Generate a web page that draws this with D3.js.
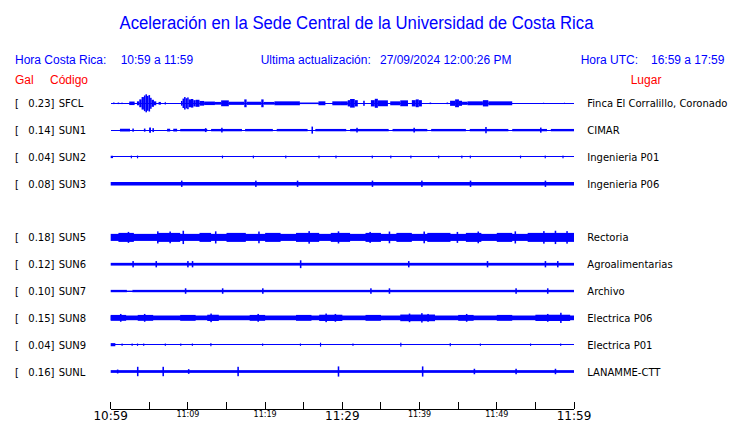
<!DOCTYPE html>
<html><head><meta charset="utf-8">
<script src="https://cdn.jsdelivr.net/npm/d3@7/dist/d3.min.js"></script>
<style>body{margin:0;background:#fff}</style>
</head><body><svg id="c" width="740" height="423"></svg>
<script>
// ---- data ----
const title = "Aceleración en la Sede Central de la Universidad de Costa Rica";
const slots = ["SFCL","SUN1","SUN2","SUN3","SUN4","SUN5","SUN6","SUN7","SUN8","SUN9","SUNL"];
const codes = ["SFCL","SUN1","SUN2","SUN3","SUN5","SUN6","SUN7","SUN8","SUN9","SUNL"];
const galMax = [0.23,0.14,0.04,0.08,0.18,0.12,0.10,0.15,0.04,0.16];
const places = ["Finca El Corralillo, Coronado","CIMAR","Ingenieria P01","Ingenieria P06","Rectoria","Agroalimentarias","Archivo","Electrica P06","Electrica P01","LANAMME-CTT"];
const tickMinutes = [0,5,10,15,20,25,30,35,40,45,50,55,60];
const tickLabels = {0:"10:59",10:"11:09",20:"11:19",30:"11:29",40:"11:39",50:"11:49",60:"11:59"};
const majorLabels = [0,30,60];

// envelopes: [start minute, end minute, half amplitude in Gal]
const envSFCL = [[0.3,0.5,0.02],[0.9,1.1,0.02],[1.4,1.5,0.02],[2.4,3.1,0.045],
 [3.4,3.7,0.05],[3.7,4.0,0.1],[4.0,4.3,0.16],[4.3,4.5,0.2],[4.5,4.7,0.23],[4.7,4.9,0.19],[4.9,5.1,0.21],[5.1,5.3,0.14],[5.3,5.6,0.09],[5.6,5.9,0.05],
 [6.2,6.5,0.035],[7.0,7.1,0.035],
 [9.1,9.3,0.06],[9.3,9.5,0.12],[9.5,9.7,0.16],[9.7,9.9,0.13],[9.9,10.1,0.15],[10.1,10.4,0.1],[10.4,10.7,0.11],[10.7,11.0,0.08],[11.0,11.5,0.09],[11.5,12.1,0.06],
 [12.1,13.5,0.045],[13.5,14.3,0.035],[14.3,15.3,0.075],[15.3,17.3,0.04],[17.3,17.6,0.1],[17.6,19.5,0.04],[19.5,19.8,0.1],[19.8,21.2,0.035],[21.2,24.5,0.05],[24.5,26.9,0.02],[26.9,27.8,0.05],[28.7,29.7,0.05],
 [29.7,30.7,0.05],[30.7,31.0,0.08],[31.0,31.6,0.11],[31.6,32.0,0.08],[32.7,32.9,0.065],[33.7,34.2,0.08],[34.2,34.6,0.115],[34.6,35.9,0.075],[36.2,37.5,0.05],[37.5,38.5,0.075],[39.0,39.5,0.08],[39.5,39.9,0.1],[39.9,40.3,0.08],
 [41.3,41.5,0.02],[43.5,43.7,0.02],[43.95,44.6,0.065],[44.6,45.1,0.1],[45.1,45.5,0.065],[45.5,46.2,0.04],[46.2,48.2,0.05],[48.2,48.9,0.08],[48.9,52.0,0.05],[56.0,56.1,0.015],[58.7,58.8,0.015]];
const envSUN1 = [[1.2,2.5,0.035],[2.8,3.0,0.04],[4.3,4.5,0.04],[5.0,5.2,0.065],[5.4,5.6,0.05],[7.3,7.7,0.035],[8.1,8.6,0.035],[9.0,12.5,0.03],[13.0,17.0,0.03],[17.4,21.0,0.03],[21.5,25.5,0.03],[26.5,30.5,0.03],[31.0,36.0,0.03],[36.5,41.0,0.03],[41.5,46.0,0.03],[46.5,51.5,0.03],[52.0,56.5,0.03],[57.0,60,0.03],
 [5.0,5.2,0.06],[12.2,12.4,0.05],[14.3,14.5,0.06],[26.0,26.2,0.09],[31.8,32.0,0.06],[39.2,39.4,0.06],[48.5,48.7,0.08],[55.6,55.8,0.065]];
const envSUN2 = [[0,0.3,0.03],[2.6,2.75,0.035],[3.4,3.55,0.035],[14.4,14.55,0.035],[18.4,18.55,0.035],[22.6,22.75,0.035],[26.9,27.05,0.035],[29.1,29.25,0.035],[33.8,33.95,0.035],[36.2,36.35,0.035],[38.8,38.95,0.035],[42.4,42.55,0.035],[45.4,45.55,0.035],[46.5,46.65,0.035],[53.0,53.15,0.035],[56.2,56.35,0.035],[58.5,58.65,0.035]];
const envSUN3 = [[0,60,0.045],[9.1,9.3,0.08],[18.7,18.9,0.08],[24.1,24.3,0.08],[33.8,34.0,0.08],[40.2,40.4,0.08],[46.5,46.7,0.08],[56.2,56.4,0.08]];
const envSUN5 = [[0,60,0.09],[1,3,0.115],[6,9,0.115],[11.5,13,0.115],[15,17.5,0.115],[20,22,0.115],[24,27,0.115],[28.5,31,0.115],[33,35,0.115],[37,39,0.115],[41,44,0.115],[46,48,0.115],[50,52,0.115],[54,60,0.115],
 [2.2,2.4,0.14],[6.0,6.2,0.155],[7.6,7.8,0.15],[9.3,9.5,0.17],[13.5,13.7,0.155],[19.1,19.3,0.15],[25.6,25.8,0.16],[29.4,29.6,0.155],[33.5,33.7,0.14],[36,36.2,0.15],[40.5,40.7,0.15],[44.8,45.0,0.14],[47.5,47.7,0.15],[52.3,52.5,0.155],[56,56.2,0.16],[57.5,57.7,0.17],[59,59.2,0.16]];
const envSUN6 = [[0,60,0.035],[2.8,3.0,0.08],[5.8,6.0,0.08],[9.9,10.1,0.08],[10.5,10.7,0.08],[24.5,24.7,0.1],[38.5,38.7,0.08],[48.7,48.9,0.08],[56.2,56.4,0.08],[57.8,58.0,0.08]];
const envSUN7 = [[0,2.1,0.03],[2.1,2.8,0.012],[2.8,60,0.03],[9.6,9.8,0.07],[14.4,14.6,0.07],[19.6,19.8,0.07],[33.6,33.8,0.07],[36.0,36.2,0.07],[52.4,52.6,0.07],[56.5,56.7,0.07]];
const envSUN8 = [[0,60,0.06],[0,2,0.075],[3.5,5.5,0.075],[9,11,0.075],[12.5,14,0.08],[18,20,0.075],[24,26,0.075],[27,30,0.08],[33,35,0.075],[37.5,42,0.085],[45,47,0.075],[50,52,0.075],[55,59.5,0.08],
 [1.2,1.4,0.1],[4.3,4.5,0.1],[12.9,13.1,0.11],[19,19.2,0.1],[27.8,28.0,0.11],[29.0,29.2,0.1],[38.6,38.8,0.11],[40.2,40.4,0.12],[41.0,41.2,0.1],[46,46.2,0.1],[56.5,56.7,0.1],[58.2,58.4,0.13]];
const envSUN9 = [[0,0.6,0.04],[1.4,1.55,0.03],[2.7,2.85,0.03],[3.4,3.55,0.03],[4.2,4.35,0.03],[7.0,7.15,0.03],[9.0,9.15,0.03],[10.5,10.65,0.03],[12.9,13.05,0.04],[19.6,19.75,0.03],[24.5,24.65,0.03],[27.1,27.25,0.05],[31.3,31.45,0.03],[37.5,37.65,0.05],[43.9,44.05,0.04],[47.8,47.95,0.03],[54.3,54.45,0.03],[58.2,58.35,0.03]];
const envSUNL = [[0,60,0.035],[0.8,1.0,0.05],[3.4,3.6,0.12],[6.7,6.9,0.12],[10,10.2,0.06],[16.4,16.6,0.12],[29.4,29.6,0.13],[40.3,40.5,0.13],[47,47.2,0.07],[52.4,52.6,0.07],[57.5,57.7,0.07]];
const envelopes = [envSFCL,envSUN1,envSUN2,envSUN3,envSUN5,envSUN6,envSUN7,envSUN8,envSUN9,envSUNL];

// ---- drawing ----
const svg = d3.select("#c");
const BLUE = "#0000ff", RED = "#ff0000";
const x = d3.scaleLinear().domain([0,60]).range([110.7,574]);
const y = d3.scalePoint().domain(slots).range([103.3,371.5]);
const amp = d3.scaleLinear().domain([0,0.23]).range([0,9]);

svg.append("text").attr("x",119.5).attr("y",29.3).attr("fill",BLUE)
  .attr("font-family","Liberation Sans, Arial, sans-serif").attr("font-size",18)
  .attr("textLength",474).attr("lengthAdjust","spacingAndGlyphs").text(title);

const hdr = [["Hora Costa Rica:",15,64,BLUE],["10:59 a 11:59",120.7,64,BLUE],["Ultima actualización:",260.7,64,BLUE],["27/09/2024 12:00:26 PM",380,64,BLUE],["Hora UTC:",580.7,64,BLUE],["16:59 a 17:59",651,64,BLUE],["Gal",15,84,RED],["Código",50,84,RED],["Lugar",630.7,84,RED]];
svg.append("g").selectAll("text").data(hdr).join("text")
  .attr("x",d=>d[1]).attr("y",d=>d[2]).attr("fill",d=>d[3])
  .attr("font-family","Liberation Sans, Arial, sans-serif").attr("font-size",12).text(d=>d[0]);

const rows = svg.append("g").selectAll("g").data(codes).join("g")
  .attr("transform",d=>`translate(0,${y(d)})`);
const lab = {"font-family":"DejaVu Sans, sans-serif","font-size":10,"fill":"#000"};
function st(sel){for(const k in lab) sel.attr(k,lab[k]); return sel;}
st(rows.append("text")).attr("x",15).attr("y",4).text("[");
st(rows.append("text")).attr("x",54.5).attr("y",4).attr("text-anchor","end").text((d,i)=>galMax[i].toFixed(2)+"]");
st(rows.append("text")).attr("x",58.7).attr("y",4).text(d=>d);
st(rows.append("text")).attr("x",587.3).attr("y",4).text((d,i)=>places[i]);

rows.append("line").attr("x1",x(0)).attr("x2",x(60)).attr("y1",0).attr("y2",0)
  .attr("stroke",BLUE).attr("stroke-width",1).attr("shape-rendering","crispEdges");
rows.each(function(d,i){
  d3.select(this).selectAll("rect").data(envelopes[i]).join("rect")
    .attr("x",e=>x(e[0])).attr("width",e=>Math.max(1,x(e[1])-x(e[0])))
    .attr("y",e=>-amp(e[2])).attr("height",e=>2*amp(e[2]))
    .attr("fill",BLUE);
});

// axis
const ax = svg.append("g").attr("transform","translate(0,409)");
ax.append("line").attr("x1",x(0)).attr("x2",x(60)).attr("stroke","#000").attr("shape-rendering","crispEdges");
ax.selectAll("line.t").data(tickMinutes).join("line").attr("class","t")
  .attr("x1",d=>x(d)).attr("x2",d=>x(d)).attr("y1",0).attr("y2",-7)
  .attr("stroke","#000").attr("shape-rendering","crispEdges");
ax.selectAll("text").data(Object.keys(tickLabels).map(Number)).join("text")
  .attr("x",d=>x(d)).attr("text-anchor","middle")
  .attr("y",d=>majorLabels.includes(d)?10.5:7.5)
  .attr("font-family","DejaVu Sans, sans-serif")
  .attr("font-size",d=>majorLabels.includes(d)?12:8)
  .attr("fill","#000").text(d=>tickLabels[d]);
</script></body></html>
